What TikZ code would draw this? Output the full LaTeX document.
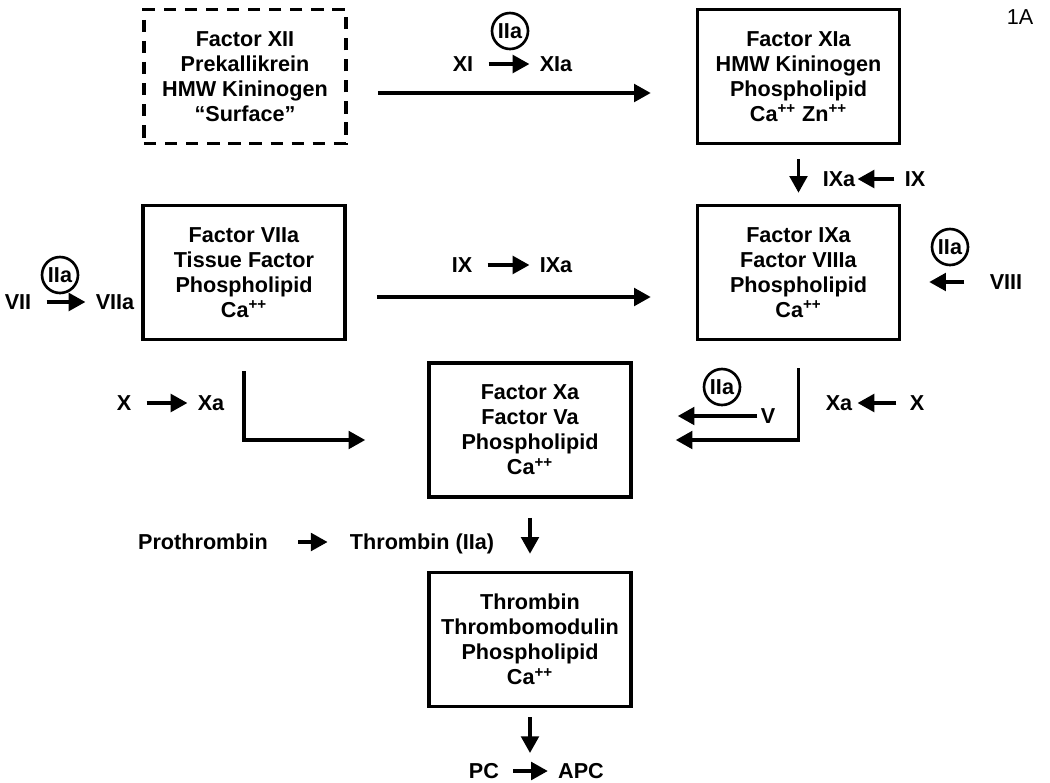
\documentclass[tikz,border=0pt]{standalone}
\usepackage{fontspec}
\setmainfont{Liberation Sans}
\usepackage{tikz}
\usetikzlibrary{arrows.meta,positioning,calc}

\begin{document}
\begin{tikzpicture}[x=0.2mm,y=-0.2mm,
  komplex/.style={draw,line width=2pt,minimum width=4.04cm,minimum height=2.68cm,
    align=center,inner sep=0pt,font=\fontsize{12.3}{14.2}\selectfont\bfseries},
  lbl/.style={inner sep=0pt,text height=8.6pt,text depth=0pt,font=\fontsize{12.3}{14}\selectfont\bfseries},
  kreis/.style={circle,draw,line width=1.5pt,minimum size=0.72cm,inner sep=0pt,
    font=\fontsize{12.3}{14}\selectfont\bfseries},
  pfeil/.style={line width=2pt,-{Triangle[length=9.5pt,width=10pt]}},
  kurz/.style={pfeil,shorten <=0.3cm,shorten >=0.2cm}]
\useasboundingbox (0,0) rectangle (1050,783);
%Komplexe (Kaesten), Mitte in Pixeln des Bildes
\node[komplex,dashed,dash pattern=on 7pt off 5pt] (xii) at (245,76.5) {Factor XII\\Prekallikrein\\HMW Kininogen\\“Surface”};
\node[komplex] (xia) at (798.5,76.5) {Factor XIa\\HMW Kininogen\\Phospholipid\\Ca\textsuperscript{++} Zn\textsuperscript{++}};
\node[komplex] (viia) at (244,272.5) {Factor VIIa\\Tissue Factor\\Phospholipid\\Ca\textsuperscript{++}};
\node[komplex] (ixa) at (798.5,272.5) {Factor IXa\\Factor VIIIa\\Phospholipid\\Ca\textsuperscript{++}};
\node[komplex] (xa) at (530,430) {Factor Xa\\Factor Va\\Phospholipid\\Ca\textsuperscript{++}};
\node[komplex] (tm) at (530,639.5) {Thrombin\\Thrombomodulin\\Phospholipid\\Ca\textsuperscript{++}};
\node[font=\fontsize{12.3}{14}\selectfont] (abb) at (1020,17) {1A};
%Thrombin-Kreise
\foreach \x/\y/\n in {510/31/a,60/275/b,950/247/c,722/387/d}{
  \node[kreis] (iia\n) at (\x,\y) {IIa};
}
%Aktivierungen
\node[lbl] (xi) at (463,64) {XI};
\node[lbl] (xiakt) at (556,64) {XIa};
\node[lbl] (ix1) at (915,179) {IX};
\node[lbl] (ixakt1) at (839,179) {IXa};
\node[lbl] (vii) at (18,302) {VII};
\node[lbl] (viiakt) at (115,302) {VIIa};
\node[lbl] (ix2) at (462,265) {IX};
\node[lbl] (ixakt2) at (556,265) {IXa};
\node[lbl] (viii) at (1006,282) {VIII};
\node[lbl] (x1) at (124,403) {X};
\node[lbl] (xakt1) at (211,403) {Xa};
\node[lbl] (x2) at (917,403) {X};
\node[lbl] (xakt2) at (839,403) {Xa};
\node[lbl] (v) at (768,416) {V};
\node[lbl] (pro) at (203,542) {Prothrombin};
\node[lbl] (thr) at (422,542) {Thrombin (IIa)};
\node[lbl] (pc) at (484,771) {PC};
\node[lbl] (apc) at (581,771) {APC};
\coordinate (pcapc) at ($(pc)!0.5!(apc)$);
%kurze Pfeile
\draw[kurz] (xi) -- (xiakt);
\draw[kurz,shorten <=0.2cm,shorten >=0.04cm] (ix1) -- (ixakt1);
\draw[kurz] (vii) -- (viiakt);
\draw[kurz] (ix2) -- (ixakt2);
\draw[kurz] (x1) -- (xakt1);
\draw[kurz,shorten <=0.26cm,shorten >=0.1cm] (x2) -- (xakt2);
\draw[kurz,shorten <=0.6cm,shorten >=0.44cm] (pro) -- (thr);
\draw[kurz,shorten <=0.28cm,shorten >=0.2cm] (pc) -- (apc);
%Verbindungen zwischen den Komplexen
\draw[pfeil,shorten <=0.6cm,shorten >=0.9cm] ([yshift=-0.33cm]xii.east) -- ([yshift=-0.33cm]xia.west);
\draw[pfeil,shorten <=0.6cm,shorten >=0.9cm] ([yshift=-0.49cm]viia.east) -- ([yshift=-0.49cm]ixa.west);
\draw[pfeil,shorten <=0.28cm,shorten >=0.22cm] (xia.south) -- (ixa.north);
\draw[pfeil,shorten <=0.5cm,shorten >=0.56cm] (viii) -- (viii -| ixa.east);
\draw[pfeil,shorten <=0.06cm,shorten >=0.9cm] (v) -- (v -| xa.east);
\draw[pfeil,shorten >=1.24cm] ([yshift=-0.6cm]viia.south) |- ([yshift=-0.2cm]xa.west);
\draw[pfeil,shorten >=0.86cm] ([yshift=-0.54cm]ixa.south) |- ([yshift=-0.2cm]xa.east);
\draw[pfeil,shorten <=0.38cm,shorten >=0.34cm] (xa.south) -- (tm.north);
\draw[pfeil,shorten <=0.18cm,shorten >=0.36cm] (tm.south) -- (tm.south |- pcapc);
\end{tikzpicture}
\end{document}
